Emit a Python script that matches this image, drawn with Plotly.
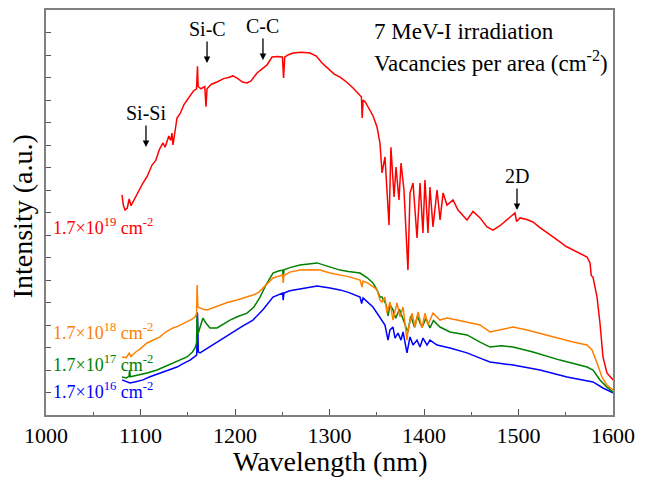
import plotly.graph_objects as go

# ---------------- data ----------------
red_wl = [1080.4, 1082, 1083.6, 1086, 1088, 1090, 1092.1, 1096, 1102.6, 1107, 1112.2, 1116, 1120, 1123.8,
          1126, 1130, 1132, 1133.3, 1134.4, 1138.6, 1142, 1146, 1149.2, 1152, 1156, 1159.3, 1160.3, 1161,
          1164, 1168, 1169.3, 1170.4, 1175, 1181, 1188, 1193, 1197.9, 1203, 1208, 1212.7, 1217, 1223.3,
          1228, 1233.9, 1239.2, 1245, 1250.2, 1251.4, 1252.6, 1256, 1261.4, 1270, 1279.4, 1286, 1292.1,
          1300.5, 1305, 1311.1, 1318, 1324.9, 1330, 1333.8, 1334.6, 1335.6, 1338, 1342.9, 1346, 1350.3,
          1353.4, 1355.6, 1358.7, 1363.0, 1365, 1368.3, 1370.4, 1373.5, 1375.7, 1378.8, 1382, 1383,
          1385.2, 1388.4, 1392.6, 1395.8, 1398.9, 1401, 1404.2, 1406.3, 1409.5, 1413.8, 1417, 1420.2,
          1424.3, 1430.7, 1436, 1445.5, 1451.9, 1459.3, 1466.7, 1473, 1480, 1487.8, 1493, 1496.3, 1498,
          1501.6, 1508, 1515.3, 1522, 1530.2, 1536, 1543.9, 1550, 1557.7, 1565, 1572.5, 1575.7, 1577,
          1578.8, 1583.1, 1586.2, 1589.4, 1593.6, 1600]
red_int = [9.78, 9.3, 9.11, 9.2, 9.6, 9.3, 9.47, 9.8, 10.31, 10.6, 11.11, 11.3, 11.8, 12.09,
           11.9, 12.4, 12.2, 12.53, 12.0, 13.2, 13.4, 13.8, 14.0, 14.2, 14.4, 14.5, 15.5, 14.6,
           14.5, 14.6, 13.7, 14.5, 14.7, 14.8, 14.95, 15.0, 15.07, 14.95, 14.8, 14.76, 14.85, 15.2,
           15.35, 15.56, 15.91, 15.93, 15.91, 14.98, 15.9, 16.0, 16.09, 16.12, 16.09, 15.95, 15.64,
           15.33, 15.15, 15.02, 14.8, 14.53, 14.3, 14.13, 13.2, 14.0, 13.9, 13.56, 13.3, 12.8,
           12.09, 10.76, 11.47, 8.44, 11.9, 9.69, 11.02, 9.56, 11.2, 10.0, 7.2, 6.44,
           9.87, 10.31, 7.87, 10.31, 8.09, 10.44, 8.09, 10.13, 8.36, 10.0, 8.67, 9.87,
           9.33, 9.56, 9.11, 8.67, 9.05, 8.76, 8.36, 8.22, 8.4, 8.67, 8.85, 8.98, 8.6,
           8.76, 8.7, 8.58, 8.35, 8.09, 7.9, 7.69, 7.5, 7.33, 7.15, 7.02, 6.76, 6.2,
           6.13, 5.24, 4.09, 2.58, 1.87, 1.56]

orange_wl = [1080.4, 1085, 1088, 1090, 1095, 1100, 1106.9, 1112, 1120.6, 1127, 1134.4, 1140, 1149.2,
             1154, 1157.7, 1159.3, 1159.9, 1160.7, 1163, 1166, 1170.4, 1176, 1184.1, 1192, 1202.1,
             1210, 1219, 1225, 1229.6, 1235, 1240.2, 1246, 1250.4, 1251, 1251.8, 1258, 1268.8, 1280,
             1290, 1300.5, 1311.1, 1320, 1332.3, 1334.4, 1335.5, 1341, 1348.2, 1350.3, 1353.4, 1355.6,
             1358.7, 1360.8, 1364, 1367.2, 1371.4, 1374.6, 1377.8, 1382, 1383.1, 1387.3, 1390.5,
             1393.7, 1397.9, 1401.1, 1404.2, 1409.5, 1416.9, 1424.3, 1434.9, 1445.5, 1459.3, 1469.8,
             1480.4, 1494.2, 1509, 1536.5, 1557.7, 1572.5, 1577.8, 1583.1, 1588.3, 1593.6, 1600]
orange_int = [2.58, 2.55, 2.75, 2.6, 2.8, 2.95, 3.2, 3.3, 3.47, 3.7, 3.87, 3.95, 4.13,
              4.25, 4.36, 4.5, 5.78, 4.8, 4.76, 4.7, 4.67, 4.75, 4.89, 5.0, 5.11,
              5.2, 5.33, 5.45, 5.64, 5.85, 6.09, 6.17, 6.22, 5.87, 6.2, 6.35, 6.44, 6.46,
              6.44, 6.31, 6.22, 6.15, 6.0, 5.69, 5.95, 5.85, 5.64, 5.56, 5.11, 5.02,
              5.24, 4.53, 5.02, 4.22, 4.98, 4.36, 4.8, 3.33, 3.78, 4.53, 3.91,
              4.58, 3.87, 4.53, 4.0, 4.53, 4.22, 4.31, 4.22, 4.13, 4.0, 3.69,
              3.78, 3.91, 3.78, 3.47, 3.24, 3.11, 2.89, 2.31, 1.69, 1.33, 1.11]

green_wl = [1080.4, 1085, 1087.8, 1088.5, 1089.2, 1095, 1099.5, 1108, 1117.5, 1126, 1134.4, 1142,
            1149.2, 1155, 1157.7, 1159.3, 1159.9, 1160.8, 1163, 1166.1, 1169, 1173.5, 1181, 1188,
            1194.7, 1203, 1212.7, 1220, 1226.5, 1233, 1240.2, 1246, 1250.4, 1251, 1251.8, 1258,
            1268.8, 1286.8, 1300.5, 1311.1, 1320, 1332.3, 1340, 1346, 1350.3, 1353.4, 1355.6, 1360,
            1362, 1364, 1367.2, 1370, 1374, 1378, 1382, 1383, 1386, 1390, 1393, 1395.8, 1398, 1402,
            1406.3, 1410, 1416.9, 1427.5, 1445.5, 1459.3, 1469.8, 1482, 1494.2, 1515.3, 1543.9,
            1572.5, 1578.8, 1586.2, 1593.6, 1600]
green_int = [1.69, 1.65, 1.72, 2.0, 1.7, 1.75, 1.78, 1.88, 2.0, 2.15, 2.31, 2.45,
             2.58, 2.8, 2.98, 3.2, 4.58, 3.6, 3.91, 4.31, 4.1, 3.87, 3.87, 4.05,
             4.22, 4.38, 4.53, 4.8, 5.24, 5.8, 6.31, 6.4, 6.44, 6.1, 6.45, 6.55,
             6.67, 6.76, 6.58, 6.44, 6.38, 6.31, 6.1, 5.87, 5.56, 5.24, 5.24, 4.9,
             4.4, 4.9, 4.67, 4.3, 4.7, 4.2, 3.78, 3.7, 4.4, 3.9, 4.4, 4.09, 3.9, 4.3,
             3.87, 4.2, 3.91, 3.69, 3.56, 3.24, 3.02, 3.08, 3.02, 2.8, 2.44,
             2.13, 2.0, 1.56, 1.24, 1.02]

blue_wl = [1080.4, 1085, 1088.9, 1095, 1102.6, 1110, 1120.6, 1130, 1138.6, 1145, 1152.4, 1157,
           1159.5, 1160.3, 1161.2, 1163, 1170, 1176.7, 1187, 1197.9, 1208, 1219, 1230, 1240.2,
           1246, 1250.4, 1251, 1251.8, 1258, 1268.8, 1286.8, 1300.5, 1311.1, 1320, 1332.3, 1334,
           1335.5, 1346, 1353.4, 1355.6, 1358.7, 1361.9, 1364, 1367.2, 1369.3, 1372.5, 1375.7,
           1377.8, 1382, 1385.2, 1388.4, 1392.6, 1395.8, 1398.9, 1403.2, 1406.3, 1413.8, 1427.5,
           1445.5, 1459.3, 1469.8, 1494.2, 1522.8, 1551.3, 1578.8, 1589.4, 1600]
blue_int = [1.56, 1.5, 1.42, 1.48, 1.56, 1.7, 1.87, 2.0, 2.13, 2.28, 2.44, 2.58,
            2.67, 4.53, 2.8, 2.76, 2.95, 3.11, 3.4, 3.69, 3.95, 4.22, 4.7, 5.24,
            5.35, 5.42, 5.1, 5.42, 5.52, 5.6, 5.73, 5.64, 5.56, 5.45, 5.24, 4.95,
            5.2, 4.8, 4.31, 4.22, 4.0, 3.33, 3.78, 3.91, 3.42, 3.64, 3.33,
            3.69, 2.76, 3.47, 3.11, 3.33, 3.02, 3.42, 3.11, 3.33, 3.11, 2.98,
            2.76, 2.53, 2.36, 2.22, 2.0, 1.69, 1.47, 1.2, 0.98]

series_names = ["1.7×10<sup>19</sup> cm<sup>-2</sup>", "1.7×10<sup>18</sup> cm<sup>-2</sup>",
                "1.7×10<sup>17</sup> cm<sup>-2</sup>", "1.7×10<sup>16</sup> cm<sup>-2</sup>"]
label_y = [8.36, 3.72, 2.27, 1.1]

peak_names = ["Si-Si", "Si-C", "C-C", "2D"]
peak_x = [1105.8, 1170.4, 1229.6, 1498.4]
peak_y = [11.91, 15.64, 15.78, 9.11]

x_ticks = [1000, 1100, 1200, 1300, 1400, 1500, 1600]

# ---------------- figure ----------------
FONT = "Liberation Serif, Times New Roman, serif"
colors = ["#ff0000", "#ff8000", "#008000", "#0000ff"]
series = [(red_wl, red_int), (orange_wl, orange_int), (green_wl, green_int), (blue_wl, blue_int)]

fig = go.Figure()
for i in [3, 2, 1, 0]:
    wl, it = series[i]
    fig.add_trace(go.Scatter(x=wl, y=it, mode="lines", name=series_names[i],
                             line=dict(color=colors[i], width=1.5), showlegend=False))

annotations = []
for name, ly, c in zip(series_names, label_y, colors):
    annotations.append(dict(x=0.008, xref="paper", y=ly, yref="y", text=name, showarrow=False,
                            xanchor="left", yanchor="middle", font=dict(family=FONT, size=18, color=c)))

for name, px, py in zip(peak_names, peak_x, peak_y):
    annotations.append(dict(x=px, y=py, xref="x", yref="y", text=name, showarrow=True,
                            ax=0, ay=-34, arrowhead=2, arrowsize=1, arrowwidth=1.3,
                            arrowcolor="#000000", font=dict(family=FONT, size=20, color="#000000")))

annotations.append(dict(x=0.575, xref="paper", y=0.947, yref="paper", text="7 MeV-I irradiation",
                        showarrow=False, xanchor="left", yanchor="middle",
                        font=dict(family=FONT, size=23, color="#000000")))
annotations.append(dict(x=0.575, xref="paper", y=0.872, yref="paper",
                        text="Vacancies per area (cm<sup>-2</sup>)",
                        showarrow=False, xanchor="left", yanchor="middle",
                        font=dict(family=FONT, size=23, color="#000000")))
# axis titles
annotations.append(dict(x=0.5, xref="paper", y=-0.114, yref="paper", text="Wavelength (nm)",
                        showarrow=False, xanchor="center", yanchor="middle",
                        font=dict(family=FONT, size=28, color="#000000")))
annotations.append(dict(x=-0.042, xref="paper", y=0.491, yref="paper", text="Intensity (a.u.)",
                        showarrow=False, xanchor="center", yanchor="middle", textangle=-90,
                        font=dict(family=FONT, size=28, color="#000000")))

fig.update_layout(
    width=648, height=479,
    margin=dict(l=46, r=35, t=10, b=64, autoexpand=False),
    paper_bgcolor="white", plot_bgcolor="white",
    font=dict(family=FONT, color="#000000"),
    annotations=annotations,
)
fig.update_xaxes(range=[1000, 1600], tickvals=x_ticks, ticks="inside", ticklen=6, tickwidth=1,
                 tickcolor="#555555", automargin=False,
                 minor=dict(dtick=50, ticks="inside", ticklen=3, tickcolor="#555555"),
                 showline=True, mirror=True, linecolor="#808080", linewidth=1.5,
                 showgrid=False, zeroline=False, tickfont=dict(family=FONT, size=22))
fig.update_yaxes(range=[0, 18], dtick=1, ticks="inside", ticklen=5, tickwidth=1, tickcolor="#555555",
                 automargin=False,
                 showticklabels=False, showline=True, mirror=True, linecolor="#808080", linewidth=1.5,
                 showgrid=False, zeroline=False)

fig.write_html("out.html", config={"displayModeBar": False},
               post_script="document.body.style.margin='0';")
